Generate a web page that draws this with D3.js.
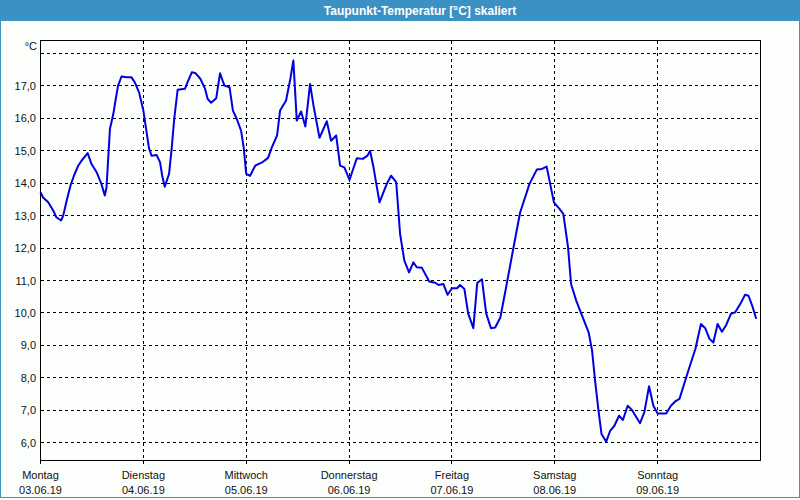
<!DOCTYPE html>
<html>
<head>
<meta charset="utf-8">
<script src="https://cdn.jsdelivr.net/npm/d3@7"></script>
<style>
  body { margin: 0; background: #fff; }
  svg { display: block; font-family: "Liberation Sans", Arial, sans-serif; }
</style>
</head>
<body>
<div id="vis"></div>
<script>
const width = 800,
  height = 500,
  plotLeft = 40.5,
  plotRight = 760.5,
  plotTop = 40.5,
  plotBottom = 460.5;

// hours since Mo 03.06.19 00:00
const hours = [
  0, 0.6, 1.8, 3.0, 3.7, 4.8, 5.3, 6.1, 7.0, 7.8, 8.8, 9.6, 11.0, 11.9, 13.1, 14.2, 15.0, 15.4, 16.0, 16.2,
  17.0, 17.5, 18.1, 18.9, 20.1, 21.2, 22.0, 23.0, 24.0, 24.7, 25.3, 25.9, 27.1, 27.9, 28.4, 29.0, 30.0, 30.6, 31.2, 32.0,
  33.7, 34.3, 35.3, 36.1, 37.3, 38.4, 39.0, 39.8, 41.0, 41.4, 41.9, 42.9, 44.1, 44.9, 45.8, 46.8, 47.4, 48.0, 48.9, 50.1,
  51.7, 53.1, 54.0, 55.2, 55.9, 57.3, 58.3, 59.0, 59.8, 60.8, 61.8, 62.9, 63.7, 65.1, 66.8, 67.8, 69.0, 69.9, 70.9, 72.1,
  73.8, 75.2, 76.3, 76.9, 77.7, 79.1, 80.8, 81.8, 83.0, 83.5, 83.9, 84.9, 86.0, 87.0, 87.8, 89.0, 90.7, 92.1, 92.9, 94.0,
  95.0, 96.0, 97.2, 97.9, 98.9, 99.8, 101.0, 101.9, 103.0, 104.0, 105.1, 106.1, 107.3, 108.5, 110.3, 111.9, 114.1, 115.8, 117.0, 118.1,
  119.8, 121.1, 122.0, 123.1, 123.8, 125.0, 126.2, 127.9, 128.7, 129.4, 130.2, 130.9, 132.0, 132.9, 133.9, 135.0, 135.9, 137.0, 138.0, 139.9,
  140.9, 142.0, 143.0, 144.0, 146.0, 147.1, 148.1, 149.1, 150.8, 152.8, 154.1, 155.1, 156.1, 157.0, 158.0, 159.0, 160.0, 161.1, 162.1, 163.3,
  164.4, 165.2, 166.2, 167.0
];
const dewpoint = [
  13.72, 13.56, 13.41, 13.15, 12.95, 12.85, 13.0, 13.46, 13.93, 14.23, 14.54, 14.7, 14.93, 14.59, 14.34, 13.98, 13.62, 13.87, 15.21, 15.67,
  16.14, 16.55, 17.01, 17.29, 17.27, 17.27, 17.11, 16.8, 16.24, 15.62, 15.09, 14.85, 14.87, 14.64, 14.23, 13.89, 14.29, 15.06, 15.98, 16.88,
  16.91, 17.11, 17.42, 17.4, 17.22, 16.91, 16.6, 16.48, 16.62, 16.96, 17.39, 17.01, 16.96, 16.24, 15.98, 15.62, 15.11, 14.29, 14.23, 14.54,
  14.64, 14.78, 15.11, 15.47, 16.24, 16.55, 17.22, 17.78, 15.93, 16.21, 15.75, 17.06, 16.39, 15.4, 15.91, 15.31, 15.47, 14.54, 14.49, 14.1,
  14.77, 14.75, 14.85, 15.0, 14.49, 13.41, 13.98, 14.23, 14.03, 13.15, 12.44, 11.61, 11.25, 11.56, 11.41, 11.39, 10.97, 10.93, 10.86, 10.89,
  10.56, 10.76, 10.76, 10.86, 10.74, 9.98, 9.53, 10.92, 11.04, 9.98, 9.53, 9.55, 9.86, 10.69, 11.97, 13.09, 13.98, 14.42, 14.44, 14.51,
  13.41, 13.21, 13.05, 12.02, 10.89, 10.38, 9.97, 9.4, 8.84, 7.91, 6.99, 6.27, 6.03, 6.36, 6.52, 6.83, 6.7, 7.14, 7.01, 6.6,
  6.94, 7.74, 7.14, 6.9, 6.9, 7.14, 7.27, 7.35, 8.07, 8.89, 9.66, 9.53, 9.2, 9.09, 9.66, 9.42, 9.63, 9.97, 10.02, 10.28,
  10.56, 10.53, 10.17, 9.82
];

const dayNames = ["Montag", "Dienstag", "Mittwoch", "Donnerstag", "Freitag", "Samstag", "Sonntag"];
const dayDates = ["03.06.19", "04.06.19", "05.06.19", "06.06.19", "07.06.19", "08.06.19", "09.06.19"];
const yTicks = [6, 7, 8, 9, 10, 11, 12, 13, 14, 15, 16, 17, 18];

const start = new Date(2019, 5, 3);
const hourMs = 3600 * 1000;
const toDate = (h) => new Date(start.getTime() + h * hourMs);

const x = d3
  .scaleTime()
  .domain([start, toDate(7 * 24)])
  .range([plotLeft, plotRight]);
const y = d3.scaleLinear().domain([5.45, 18.4]).range([plotBottom, plotTop]);

const svg = d3
  .select("#vis")
  .append("svg")
  .attr("width", width)
  .attr("height", height);

// frame + title bar
svg.append("rect").attr("x", 0).attr("y", 0).attr("width", width).attr("height", height).attr("fill", "#fcfefc");
svg.append("rect").attr("x", 0).attr("y", 0).attr("width", width).attr("height", 21).attr("fill", "#3b91c4");
svg
  .append("rect")
  .attr("x", 0.5)
  .attr("y", 0.5)
  .attr("width", width - 1)
  .attr("height", 497)
  .attr("fill", "none")
  .attr("stroke", "#3b91c4");
svg
  .append("text")
  .attr("x", 420)
  .attr("y", 15)
  .attr("text-anchor", "middle")
  .attr("fill", "#fff")
  .attr("font-weight", "bold")
  .attr("font-size", "12px")
  .text("Taupunkt-Temperatur [°C] skaliert");

const days = d3.range(dayNames.length).map((i) => toDate(i * 24));
const snap = (v) => Math.round(v - 0.5) + 0.5;

// grid
const grid = svg.append("g").attr("stroke", "#000").attr("stroke-dasharray", "3,3").attr("shape-rendering", "crispEdges");
grid
  .selectAll("line.h")
  .data(yTicks)
  .enter()
  .append("line")
  .attr("x1", plotLeft)
  .attr("x2", plotRight)
  .attr("y1", (d) => snap(y(d)))
  .attr("y2", (d) => snap(y(d)));
grid
  .selectAll("line.v")
  .data(days.slice(1))
  .enter()
  .append("line")
  .attr("x1", (d) => snap(x(d)))
  .attr("x2", (d) => snap(x(d)))
  .attr("y1", plotTop)
  .attr("y2", plotBottom);

// bottom ticks
svg
  .append("g")
  .attr("stroke", "#000")
  .attr("shape-rendering", "crispEdges")
  .selectAll("line")
  .data(days)
  .enter()
  .append("line")
  .attr("x1", (d) => snap(x(d)))
  .attr("x2", (d) => snap(x(d)))
  .attr("y1", plotBottom)
  .attr("y2", plotBottom + 3);

// plot border
svg
  .append("rect")
  .attr("x", plotLeft)
  .attr("y", plotTop)
  .attr("width", plotRight - plotLeft)
  .attr("height", plotBottom - plotTop)
  .attr("fill", "none")
  .attr("stroke", "#000")
  .attr("shape-rendering", "crispEdges");

// y labels
const fmt = (d) => d.toFixed(1).replace(".", ",");
svg
  .append("g")
  .attr("font-size", "11px")
  .attr("fill", "#111")
  .attr("text-anchor", "end")
  .selectAll("text")
  .data(yTicks.filter((d) => d < 18))
  .enter()
  .append("text")
  .attr("x", 36)
  .attr("y", (d) => y(d) + 4)
  .text(fmt);
svg.append("text").attr("x", 37).attr("y", 50).attr("text-anchor", "end").attr("font-size", "11px").attr("fill", "#111").text("°C");

// x labels
const xl = svg.append("g").attr("font-size", "11px").attr("fill", "#111").attr("text-anchor", "middle");
xl.selectAll("text.name")
  .data(days)
  .enter()
  .append("text")
  .attr("x", (d) => x(d))
  .attr("y", 479)
  .text((d, i) => dayNames[i]);
xl.selectAll("text.date")
  .data(days)
  .enter()
  .append("text")
  .attr("x", (d) => x(d))
  .attr("y", 494)
  .text((d, i) => dayDates[i]);

// line
const line = d3
  .line()
  .x((d, i) => x(toDate(hours[i])))
  .y((d) => y(d));
svg
  .append("path")
  .datum(dewpoint)
  .attr("fill", "none")
  .attr("stroke", "#0000e0")
  .attr("stroke-width", 2)
  .attr("stroke-linejoin", "round")
  .attr("d", line);
</script>
</body>
</html>
